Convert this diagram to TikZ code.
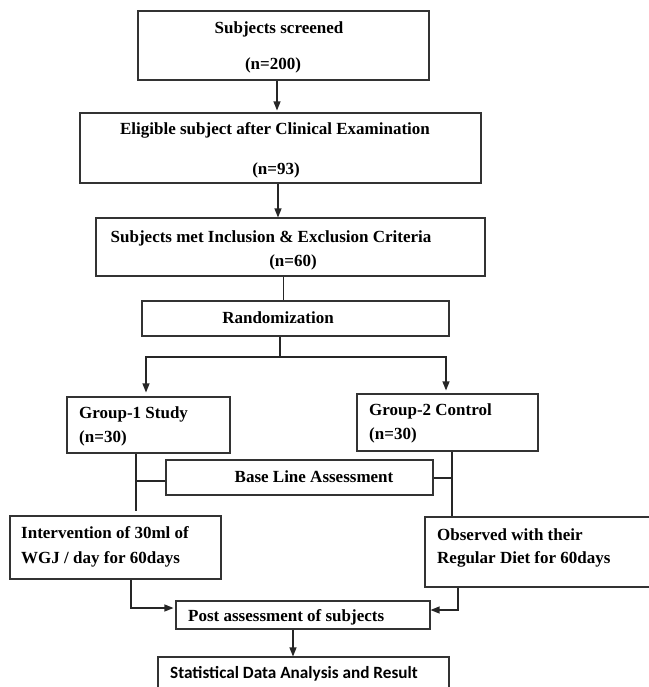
\documentclass[tikz,border=0pt]{standalone}
\usepackage{fontspec}
\setmainfont{Liberation Serif}
\newfontfamily\calib{Carlito}
\usetikzlibrary{arrows.meta}
\begin{document}
\begin{tikzpicture}[x=1pt,y=-1pt,
  boxx/.style={draw=black!80,line width=1.1pt,fill=none,inner sep=0pt},
  txt/.style={inner sep=0pt,anchor=base,font=\fontsize{17}{20}\selectfont\bfseries},
  ltxt/.style={txt,anchor=base west},
  conn/.style={draw=black!85,line width=1.2pt},
  arr/.style={conn,-{Triangle[length=9pt,width=7pt]}}]
\useasboundingbox (0,0) rectangle (648,687);
% boxes
\node[boxx,minimum width=291,minimum height=69] (b1) at (283.5,45.5) {};
\node[boxx,minimum width=401,minimum height=70] (b2) at (280.5,148) {};
\node[boxx,minimum width=389,minimum height=58] (b3) at (290.5,247) {};
\node[boxx,minimum width=307,minimum height=35] (rand) at (295.5,318.5) {};
\node[boxx,minimum width=163,minimum height=56] (g1) at (148.5,425) {};
\node[boxx,minimum width=181,minimum height=57] (g2) at (447.5,422.5) {};
\node[boxx,minimum width=267,minimum height=35] (base) at (299.5,477.5) {};
\node[boxx,minimum width=211,minimum height=63] (interv) at (115.5,547.5) {};
\node[boxx,minimum width=235,minimum height=70] (obs) at (542.5,552) {};
\node[boxx,minimum width=254,minimum height=28] (post) at (303,615) {};
\node[boxx,minimum width=291,minimum height=44] (stat) at (303.5,679) {};
% texts
\node[txt] (t1a) at (279,34) {Subjects screened};
\node[txt] (t1b) at (273,70) {(n=200)};
\node[txt] (t2a) at (275,135) {Eligible subject after Clinical Examination};
\node[txt] (t2b) at (276,175) {(n=93)};
\node[txt] (t3a) at (271,242) {Subjects met Inclusion \& Exclusion Criteria};
\node[txt] (t3b) at (293,266) {(n=60)};
\node[txt] (tr) at (278,323) {Randomization};
\node[ltxt] (tg1a) at (79,418) {Group-1 Study};
\node[ltxt] (tg1b) at (79,442) {(n=30)};
\node[ltxt] (tg2a) at (369,415) {Group-2 Control};
\node[ltxt] (tg2b) at (369,439) {(n=30)};
\node[txt] (tb) at (314,482) {Base Line Assessment};
\node[ltxt] (tia) at (21,538) {Intervention of 30ml of};
\node[ltxt] (tib) at (21,563) {WGJ / day for 60days};
\node[ltxt] (toa) at (437,540) {Observed with their};
\node[ltxt] (tob) at (437,563) {Regular Diet for 60days};
\node[ltxt] (tp) at (188,621) {Post assessment of subjects};
\node[ltxt,font=\fontsize{17.2}{20}\selectfont\calib\bfseries] (ts) at (170,678) {Statistical Data Analysis and Result};
% connectors
\coordinate (split) at (280,357);
\draw[arr] ([xshift=-6.5]b1.south) -- ([xshift=-6.5,yshift=2]b1.south |- b2.north);
\draw[arr] ([xshift=-2.5]b2.south) -- ([xshift=-2.5]b2.south |- b3.north);
\draw[conn] ([xshift=-7]b3.south) -- ([xshift=-7]b3.south |- rand.north);
\draw[conn] ([xshift=-15.5]rand.south) -- (split);
\draw[arr,shorten >=4pt] (split) -| ([xshift=-2.5]g1.north);
\draw[arr,shorten >=3pt] (split) -| ([xshift=-1.5]g2.north);
\draw[conn] ([xshift=-12.5]g1.south) -- ([xshift=-12.5,yshift=4]g1.south |- interv.north);
\draw[conn] (base.west |- 0,481) -- ([xshift=-12.5]g1.south |- 0,481);
\draw[conn] ([xshift=4.5]g2.south) -- ([xshift=4.5]g2.south |- obs.north);
\draw[conn] (base.east |- 0,478) -- ([xshift=4.5]g2.south |- 0,478);
\draw[arr,shorten >=2pt] ([xshift=15.5]interv.south) |- ([yshift=7]post.west);
\draw[arr] ([xshift=-84.5]obs.south) |- ([yshift=5]post.east);
\draw[arr] ([xshift=-10]post.south) -- ([xshift=-10]post.south |- stat.north);
\end{tikzpicture}
\end{document}
